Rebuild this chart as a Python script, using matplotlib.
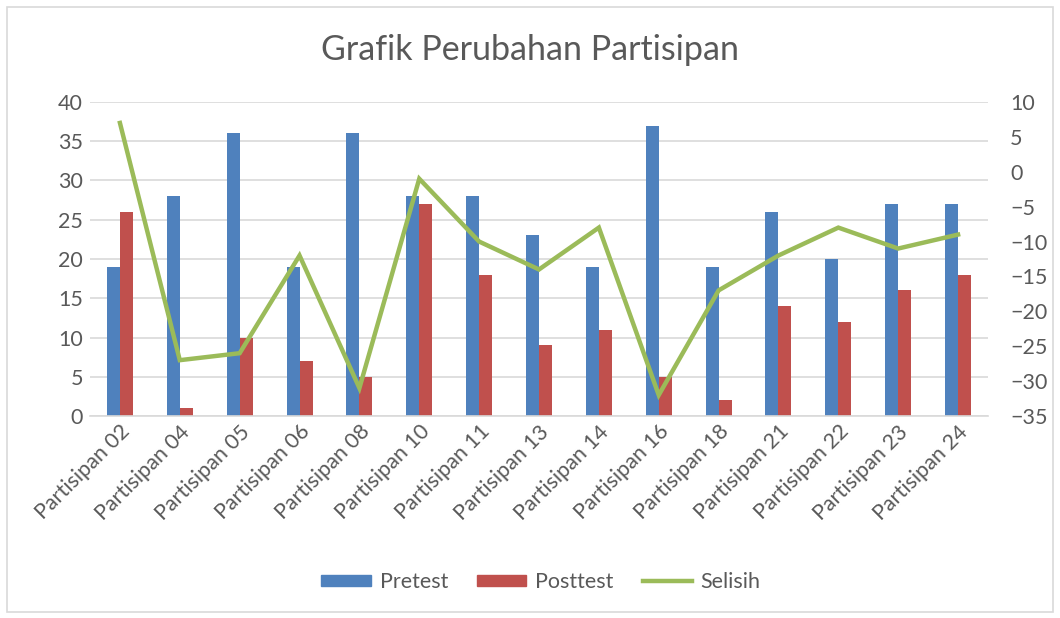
import matplotlib
matplotlib.use("Agg")
import matplotlib.pyplot as plt
import numpy as np
from matplotlib.patches import Rectangle
from matplotlib.lines import Line2D
from matplotlib.patches import Patch

plt.rcParams['font.family'] = ['Lato', 'DejaVu Sans']

categories = ["Partisipan 02", "Partisipan 04", "Partisipan 05", "Partisipan 06", "Partisipan 08",
              "Partisipan 10", "Partisipan 11", "Partisipan 13", "Partisipan 14", "Partisipan 16",
              "Partisipan 18", "Partisipan 21", "Partisipan 22", "Partisipan 23", "Partisipan 24"]
pretest = [19, 28, 36, 19, 36, 28, 28, 23, 19, 37, 19, 26, 20, 27, 27]
posttest = [26, 1, 10, 7, 5, 27, 18, 9, 11, 5, 2, 14, 12, 16, 18]
selisih = [7, -27, -26, -12, -31, -1, -10, -14, -8, -32, -17, -12, -8, -11, -9]

BLUE = "#4F81BD"
RED = "#C0504D"
GREEN = "#9BBB59"
TXT = "#595959"
GRID = "#D9D9D9"
FS = 15.5

fig = plt.figure(figsize=(10.6, 6.18), dpi=100)
ax = fig.add_axes([90/1060, (618-416)/618, (988-90)/1060, (416-102)/618])
x = np.arange(len(categories))
w = 0.217
ax.bar(x - w/2, pretest, width=w, color=BLUE, zorder=2)
ax.bar(x + w/2, posttest, width=w, color=RED, zorder=2)
ax.set_xlim(-0.5, len(categories) - 0.5)
ax.set_ylim(0, 40)
ax.set_yticks(range(0, 41, 5))
ax.yaxis.grid(True, color=GRID, linewidth=1.2, zorder=0)
ax.set_axisbelow(True)
for s in ["top", "right", "left"]:
    ax.spines[s].set_visible(False)
ax.spines["bottom"].set_color(GRID)
ax.spines["bottom"].set_linewidth(1.2)
ax.tick_params(axis="y", length=0, labelsize=FS, colors=TXT, pad=5)
ax.tick_params(axis="x", length=0, labelsize=FS, colors=TXT, pad=4)
ax.set_xticks(x)
ax.set_xticklabels(categories, rotation=45, ha="right", rotation_mode="anchor")

ax2 = ax.twinx()
ax2.plot(x, selisih, color=GREEN, linewidth=3.2, solid_joinstyle="miter", zorder=3)
ax2.set_ylim(-35, 10)
ax2.set_yticks(range(-35, 11, 5))
for s in ["top", "right", "left", "bottom"]:
    ax2.spines[s].set_visible(False)
ax2.tick_params(axis="y", length=0, labelsize=FS, colors=TXT, pad=16)

fig.text(0.5, 1 - 50/618, "Grafik Perubahan Partisipan", ha="center", va="center",
         fontsize=24.5, color=TXT)

handles = [Patch(color=BLUE, label="Pretest"), Patch(color=RED, label="Posttest"),
           Line2D([0], [0], color=GREEN, linewidth=3.2, label="Selisih")]
fig.legend(handles=handles, loc="center", bbox_to_anchor=(541/1060, 1 - 582/618), ncol=3,
           frameon=False, fontsize=FS, labelcolor=TXT, handlelength=2.3, handleheight=0.45,
           columnspacing=1.35, handletextpad=0.4)

fig.patches.append(Rectangle((7/1060, 6/618), 1046/1060, 605/618, transform=fig.transFigure,
                             fill=False, edgecolor=GRID, linewidth=1.2))

fig.savefig("out.png", dpi=100)
